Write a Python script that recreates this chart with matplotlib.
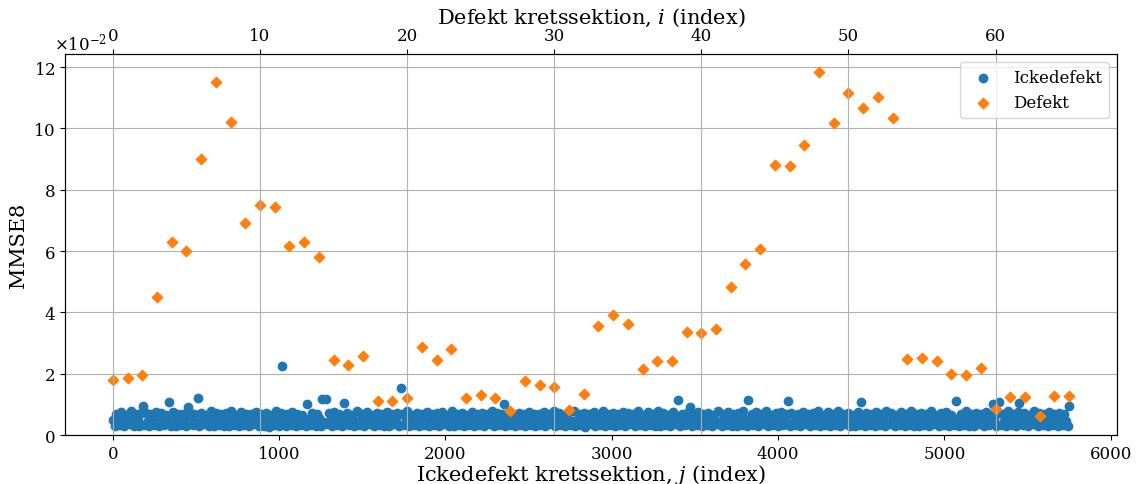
import numpy as np
import matplotlib
matplotlib.use("Agg")
import matplotlib.pyplot as plt

plt.rcParams['font.family'] = 'serif'
plt.rcParams['mathtext.fontset'] = 'dejavuserif'

# MMSE8 for the non-defect sections (units of 1e-4), one value per 10 indices j
ickedefekt = [
    48, 30, 70, 52, 33, 74, 45, 29, 66, 55, 35, 78, 43, 31, 69, 50, 28, 72, 96, 34,
    72, 47, 30, 68, 56, 32, 76, 44, 29, 71, 53, 34, 65, 49, 109, 31, 74, 46, 28, 70,
    51, 33, 67, 45, 30, 93, 75, 58, 32, 69, 44, 120, 28, 72, 54, 35, 66, 47, 29, 77,
    50, 31, 73, 46, 34, 68, 55, 28, 71, 43, 30, 79, 52, 33, 65, 48, 29, 74, 57, 32,
    70, 45, 28, 67, 53, 35, 76, 42, 31, 69, 56, 30, 73, 49, 27, 66, 44, 34, 78, 51,
    31, 72, 224, 47, 29, 68, 54, 33, 75, 43, 30, 70, 57, 34, 66, 46, 28, 101, 52, 32,
    73, 48, 29, 67, 55, 31, 118, 44, 117, 35, 71, 50, 28, 76, 45, 33, 68, 53, 30, 104,
    47, 72, 32, 56, 66, 29, 44, 78, 34, 52, 69, 30, 48, 74, 35, 57, 65, 28, 43, 71,
    33, 54, 67, 31, 46, 75, 29, 50, 70, 35, 45, 73, 30, 152, 68, 34, 49, 77, 28, 55,
    66, 32, 47, 72, 30, 53, 69, 34, 44, 76, 29, 51, 67, 33, 56, 71, 28, 46, 74, 35,
    52, 65, 31, 45, 78, 29, 54, 70, 33, 48, 73, 30, 57, 66, 34, 43, 75, 28, 50, 69,
    32, 55, 72, 30, 47, 67, 35, 52, 79, 29, 44, 71, 33, 56, 68, 101, 31, 48, 74, 34,
    53, 66, 28, 45, 73, 32, 57, 69, 30, 49, 76, 34, 44, 70, 29, 54, 67, 33, 46, 75,
    31, 51, 68, 35, 43, 77, 28, 56, 71, 32, 47, 65, 30, 53, 74, 34, 45, 79, 29, 50,
    67, 33, 55, 72, 27, 46, 69, 35, 52, 75, 30, 44, 66, 32, 57, 78, 29, 48, 70, 34,
    54, 73, 31, 43, 68, 33, 56, 76, 28, 49, 71, 35, 45, 67, 30, 53, 79, 32, 47, 65,
    29, 55, 74, 34, 46, 69, 31, 52, 77, 28, 44, 72, 33, 57, 66, 30, 48, 75, 35, 51,
    115, 30, 68, 45, 33, 73, 56, 92, 29, 70, 47, 32, 76, 53, 28, 67, 44, 34, 72, 55,
    31, 66, 49, 35, 78, 43, 29, 70, 54, 33, 74, 46, 30, 68, 57, 28, 73, 45, 34, 79,
    52, 30, 115, 47, 67, 32, 56, 74, 29, 44, 69, 35, 53, 77, 31, 48, 66, 33, 55, 72,
    28, 46, 75, 34, 51, 68, 111, 30, 73, 43, 32, 57, 70, 29, 49, 76, 35, 44, 67, 31,
    54, 72, 33, 45, 79, 28, 56, 66, 32, 47, 74, 30, 52, 69, 34, 43, 77, 29, 55, 68,
    35, 48, 71, 31, 53, 65, 29, 46, 76, 33, 107, 57, 30, 73, 44, 34, 67, 50, 28, 75,
    47, 32, 69, 55, 30, 78, 43, 35, 72, 52, 29, 66, 48, 33, 74, 56, 28, 70, 45, 34,
    77, 51, 31, 67, 44, 29, 73, 54, 33, 68, 46, 30, 79, 53, 35, 65, 42, 28, 71, 57,
    32, 74, 48, 30, 66, 55, 34, 112, 45, 29, 70, 52, 33, 77, 43, 31, 68, 56, 28, 73,
    47, 35, 69, 54, 30, 75, 44, 32, 66, 101, 51, 29, 73, 107, 34, 70, 45, 31, 78, 53,
    33, 67, 48, 28, 74, 105, 56, 32, 71, 44, 30, 65, 52, 35, 79, 46, 29, 72, 55, 33,
    68, 43, 31, 76, 53, 34, 70, 47, 29, 73, 56, 32, 67, 45, 30, 96,
]
step_j = 10

# MMSE8 for the defect sections (units of 1e-2), index i = 0..65
defekt = [
    1.80, 1.85, 1.96, 4.50, 6.28, 6.00, 8.99, 11.53, 10.22, 6.90, 7.50, 7.43,
    6.17, 6.31, 5.81, 2.45, 2.29, 2.57, 1.10, 1.12, 1.22, 2.87, 2.46, 2.80,
    1.22, 1.29, 1.22, 0.77, 1.75, 1.64, 1.55, 0.80, 1.33, 3.55, 3.93, 3.63,
    2.15, 2.40, 2.40, 3.35, 3.32, 3.47, 4.83, 5.58, 6.07, 8.82, 8.77, 9.45,
    11.85, 10.19, 11.17, 10.67, 11.03, 10.34, 2.47, 2.50, 2.42, 1.98, 1.95, 2.20,
    0.84, 1.25, 1.25, 0.61, 1.28, 1.28,
]

j = np.arange(len(ickedefekt)) * step_j
y_ok = np.array(ickedefekt) * 1e-4
i = np.arange(len(defekt))
y_def = np.array(defekt) * 1e-2

fig, ax = plt.subplots(figsize=(11.37, 4.85), dpi=100)
fig.subplots_adjust(left=0.0572, right=0.9824, bottom=0.101, top=0.8866)

ax.scatter(j, y_ok, color='C0', s=36, label='Ickedefekt')
ax.set_xlabel('Ickedefekt kretssektion, $j$ (index)', fontsize=15, labelpad=0)
ax.set_ylabel('MMSE8', fontsize=15)
ax.tick_params(labelsize=12)
ax.ticklabel_format(axis='y', style='sci', scilimits=(-2, -2), useMathText=True)
ax.yaxis.get_offset_text().set_fontsize(12)
ax.yaxis.get_offset_text().set_x(-0.0105)
ax.grid(axis='y')

ax2 = ax.twiny()
ax2.scatter(i, y_def, color='C1', marker='D', s=28, label='Defekt')
ax2.set_xlabel('Defekt kretssektion, $i$ (index)', fontsize=15, labelpad=3)
ax2.tick_params(labelsize=12)
ax2.grid(axis='x')

ax.set_ylim(bottom=0)

h1, l1 = ax.get_legend_handles_labels()
h2, l2 = ax2.get_legend_handles_labels()
ax2.legend(h1 + h2, l1 + l2, loc='upper right', fontsize=12)

plt.savefig('out.png', dpi=100)
